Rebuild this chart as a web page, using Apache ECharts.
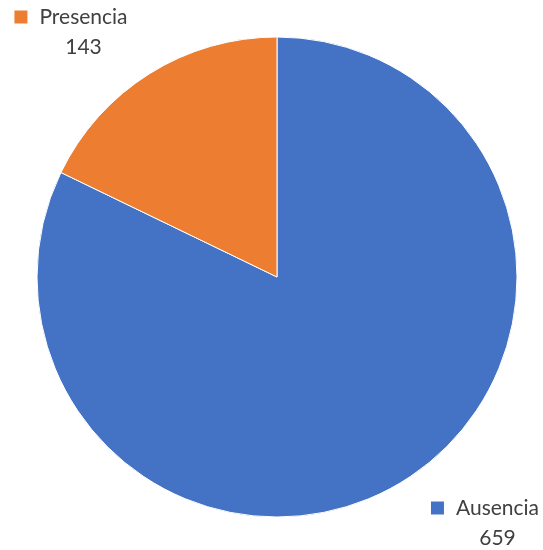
<!DOCTYPE html>
<html>
<head>
<meta charset="utf-8">
<script src="https://cdn.jsdelivr.net/npm/echarts@6/dist/echarts.min.js"></script>
<style>
  html, body { margin: 0; padding: 0; background: #fff; }
  #main { width: 543px; height: 550px; }
</style>
</head>
<body>
<div id="main"></div>
<script>
// datos del gráfico
var categorias = ['Ausencia', 'Presencia'];
var valores = [659, 143];
var colores = ['#4472C4', '#ED7D31'];

// posiciones de las etiquetas (centro del bloque de texto)
var labelPos = [[485, 523], [71, 32]];

var myChart = echarts.init(document.getElementById('main'));

var option = {
    animation: false,
    series: [{
        type: 'pie',
        center: [277, 277],
        radius: [0, 240],
        startAngle: 90,
        clockwise: true,
        itemStyle: {
            borderColor: '#fff',
            borderWidth: 1
        },
        labelLine: { show: false },
        label: {
            show: true,
            position: 'outside',
            overflow: 'none',
            edgeDistance: 0,
            bleedMargin: 0,
            formatter: function (p) {
                var m = p.dataIndex === 0 ? 'm0' : 'm1';
                return '{' + m + '|}{g|}{n|' + p.name + '}\n{s|}{v|' + p.value + '}';
            },
            align: 'center',
            lineHeight: 30,
            rich: {
                m0: { width: 13, height: 13, backgroundColor: colores[0] },
                m1: { width: 13, height: 13, backgroundColor: colores[1] },
                g: { width: 12 },
                s: { width: 25 },
                n: { fontFamily: 'Lato', fontSize: 21, color: '#404040' },
                v: { fontFamily: 'Lato', fontSize: 21, color: '#404040' }
            }
        },
        labelLayout: function (params) {
            var pos = labelPos[params.dataIndex];
            return { x: pos[0], y: pos[1], align: 'center', verticalAlign: 'middle' };
        },
        data: categorias.map(function (c, i) {
            return { name: c, value: valores[i], itemStyle: { color: colores[i] } };
        })
    }]
};

myChart.setOption(option);
</script>
</body>
</html>
